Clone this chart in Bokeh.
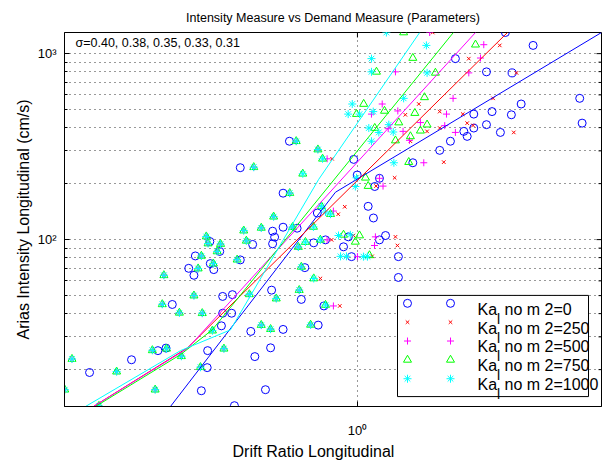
import numpy as np
from bokeh.plotting import figure
from bokeh.models import FixedTicker, Range1d, Title
from bokeh.core.properties import value
from bokeh.embed import file_html
from bokeh.resources import INLINE

FONT = "Liberation Sans"

# ---------------- axis limits ----------------
x_min, x_max = 0.2847, 2.848
y_min, y_max = 12.67, 1299.0

x_major = [1]
y_major = [10, 100, 1000]
y_minor = [20, 30, 40, 50, 60, 70, 80, 90, 200, 300, 400, 500, 600, 700, 800, 900]
x_labels = {1: "10\u2070"}
y_labels = {10: "10\u00b9", 100: "10\u00b2", 1000: "10\u00b3"}

ka_values = ["0", "250", "500", "750", "1000"]
sigmas = ["0.40", "0.38", "0.35", "0.33", "0.31"]

# ---------------- data ----------------
# Ka = 0 (blue circles)
b_x = [1.886, 2.124, 1.522, 1.739, 1.941, 2.594, 2.018, 1.781, 1.647, 1.935, 2.621, 1.739, 1.647, 1.578, 1.601,
       1.846, 1.490, 1.423, 1.268, 0.984, 0.999, 1.099, 1.077, 1.047, 1.071, 0.962, 0.942, 1.128, 1.099, 1.192,
       0.975, 1.192, 0.842, 0.727, 0.727, 0.695, 0.701, 0.695, 0.638, 0.531, 0.554, 0.499, 0.605, 0.532, 0.485,
       0.540, 0.496, 0.772, 0.829, 0.872, 0.798, 0.692, 0.786, 0.585, 0.561, 0.452, 0.561, 0.583, 0.866, 0.845,
       0.558, 0.727, 0.633, 0.425, 0.440, 0.526, 0.689, 0.644, 0.3795, 0.317, 0.525, 0.512, 0.674, 0.590, 0.747,
       0.605]
b_y = [1299, 1107, 940, 798, 788, 575, 536, 488, 473, 469, 423, 415, 398, 382, 359,
       377, 338, 302, 259, 270, 222.5, 213.6, 193, 151, 130.7, 103.5, 91.5, 105.2, 99.7, 81.0,
       81.0, 62.6, 139, 177.7, 116.6, 111, 103.1, 95.0, 94.2, 97.7, 86.4, 81.7, 77.8, 74.3, 70.1,
       69.0, 64.3, 115.2, 96.1, 99.7, 70.7, 53.5, 47.7, 50.6, 49.5, 44.8, 40.2, 40.2, 44.0, 34.7,
       34.4, 32.9, 32.1, 25.3, 26.1, 25.3, 26.2, 23.5, 22.6, 19.3, 20.5, 15.4, 15.6, 12.8, 338,
       243.6]

# records where Ka = 250, 500, 750, 1000 coincide
shared_x = [0.748, 0.698, 0.662, 0.614, 0.621, 0.523, 0.527, 0.556, 0.548, 0.512, 0.597, 0.539, 0.505, 0.436,
            0.757, 0.776, 0.786, 0.779, 0.706, 0.629, 0.496, 0.433, 0.466, 0.514, 0.818, 0.537, 0.662, 0.689,
            0.415, 0.441, 0.564, 0.470, 0.294, 0.356, 0.510, 0.285, 0.420, 0.330, 0.769, 0.641, 0.844]
shared_y = [177.7, 132.8, 115.6, 111.8, 98.5, 103.9, 95.3, 94.6, 86.4, 81.7, 78.0, 74.3, 69.9, 64.3,
            116.6, 91.2, 71.3, 53.5, 48.2, 50.8, 50.0, 44.9, 40.4, 40.2, 34.8, 32.4, 34.7, 33.0,
            25.4, 25.9, 25.9, 23.6, 22.8, 19.5, 20.6, 15.6, 15.6, 12.75, 338, 245, 305]

# records where Ka = 750 and 1000 coincide
gc_x = [0.800, 0.853, 0.829, 0.872, 0.791, 0.861, 0.857, 0.828, 0.891]
gc_y = [97.0, 99.7, 61.8, 44.5, 226, 272, 151, 117, 137]

# Ka = 250 (red x)
r_x = [1.381, 1.841, 1.612, 1.978, 1.789, 1.301, 1.228, 1.423, 1.571, 1.601, 1.642, 1.423, 1.348, 1.955,
       1.255, 1.448, 1.173, 1.083, 0.897, 0.947, 0.921, 0.895, 0.983, 1.177, 1.187, 1.065, 0.853, 0.927]
r_y = [1299, 1107, 940, 788, 575, 536, 469, 488, 473, 423, 411, 398, 382, 377,
       338, 261, 215, 194, 272, 150.2, 137, 99.7, 105.2, 103.5, 93.0, 81.3, 61.8, 44.0]

# Ka = 500 (magenta +)
m_x = [1.363, 1.719, 1.695, 1.177, 1.612, 1.507, 1.112, 1.062, 1.189, 1.465, 1.31, 1.454, 1.141,
       1.216, 1.522, 1.250, 1.329, 1.099, 1.116, 0.878, 0.878, 1.080, 1.076, 1.0, 0.902, 0.902]
m_y = [1299, 1117, 947, 798, 788, 575, 536, 473, 492, 473, 426, 410, 395,
       382, 377, 342, 259, 213.6, 194, 272, 99.7, 103.5, 93.0, 81.0, 44.0, 142.4]

# Ka = 750 (green triangles)
g_x = [1.219, 1.659, 1.268, 1.085, 1.397, 1.333, 1.027, 1.123, 1.279, 0.996, 1.194, 1.348, 1.077,
       1.31, 1.255, 1.177, 1.246, 1.035, 1.047, 0.942, 1.009, 0.991, 1.053]
g_y = [1299, 1117, 947, 798, 788, 582, 536, 492, 479, 473, 426, 415, 398,
       385, 359, 341, 261, 215, 194, 106.1, 105.2, 97.3, 82.3]

# Ka = 1000 (cyan asterisks)
c_x = [1.132, 1.344, 1.062, 1.062, 1.348, 0.978, 0.961, 1.009, 1.070, 1.219, 1.050, 1.096, 1.144,
       1.166, 1.062, 0.996, 1.169, 0.991, 0.922, 0.970, 0.930, 0.954, 1.026, 1.044, 0.872]
c_y = [1299, 1107, 940, 798, 788, 536, 473, 473, 488, 575, 398, 377, 415,
       379, 338, 215, 259, 193, 105.2, 106.1, 81.3, 81.3, 81.0, 81.0, 140.7]

# fitted curves
fit_b_x = [0.4485, 0.910, 2.848]
fit_b_y = [12.67, 179.8, 1299]
fit_r_x = [0.3224, 0.4826, 1.903]
fit_r_y = [12.67, 26.2, 1299]
fit_m_x = [0.3224, 0.4826, 1.659]
fit_m_y = [12.67, 26.0, 1299]
fit_g_x = [0.3252, 0.4683, 0.5364, 1.509]
fit_g_y = [12.67, 24.1, 32.7, 1299]
fit_c_x = [0.3115, 0.4683, 0.580, 0.847, 1.306]
fit_c_y = [12.67, 25.3, 32.7, 211, 1299]

# ---------------- figure ----------------
FL, FR, FT, FB = 64, 601, 32, 409          # frame edges in page pixels
W, H = 605, 460

p = figure(width=W, height=H, x_axis_type="log", y_axis_type="log",
           x_range=Range1d(x_min, x_max), y_range=Range1d(y_min, y_max),
           output_backend="svg", toolbar_location=None,
           min_border_left=FL, min_border_right=W - FR, min_border_top=FT, min_border_bottom=H - FB)
p.background_fill_color = "white"
p.border_fill_color = "white"
p.outline_line_color = "black"
p.outline_line_width = 1

p.title.text = "Intensity Measure vs Demand Measure (Parameters)"
p.title.text_font = FONT
p.title.text_font_size = "12.5px"
p.title.text_font_style = "normal"
p.title.align = "center"
p.title.text_color = "black"
p.title.standoff = 16

xt = FixedTicker(ticks=x_major, minor_ticks=[])
yt = FixedTicker(ticks=y_major, minor_ticks=y_minor)

xa = p.below[0]
ya = p.left[0]
for ax, tk, lab in ((xa, xt, x_labels), (ya, yt, y_labels)):
    ax.ticker = tk
    ax.major_label_overrides = lab
    ax.axis_label_text_font = FONT
    ax.axis_label_text_font_size = "16px"
    ax.axis_label_text_font_style = "normal"
    ax.axis_label_text_color = "black"
    ax.major_label_text_font = FONT
    ax.major_label_text_font_size = "13px"
    ax.major_label_text_color = "black"
    ax.major_tick_in = 5
    ax.major_tick_out = 0
    ax.minor_tick_in = 3
    ax.minor_tick_out = 0
    ax.axis_line_color = "black"
    ax.major_tick_line_color = "black"
    ax.minor_tick_line_color = "black"
ya.axis_label = "Arias Intensity Longitudinal (cm/s)"
ya.major_label_standoff = 8
ya.axis_label_standoff = 3
xa.major_label_standoff = 16

# x axis label, placed left of centre as in the original
p.add_layout(Title(text="Drift Ratio Longitudinal", align="left", offset=232 - FL,
                   text_font=FONT, text_font_size="16px", text_font_style="normal",
                   text_color="black", standoff=1), "below")

for g in (p.xgrid[0], p.ygrid[0]):
    g.grid_line_color = "black"
    g.grid_line_dash = "1 4"
    g.grid_line_alpha = 0.8
p.ygrid[0].minor_grid_line_color = "black"
p.ygrid[0].minor_grid_line_dash = "1 4"
p.ygrid[0].minor_grid_line_alpha = 0.8

# ---------------- series ----------------
series = [
    ("#0000ff", "circle", 8, b_x, b_y, fit_b_x, fit_b_y),
    ("#ff0000", "x", 5, shared_x + r_x, shared_y + r_y, fit_r_x, fit_r_y),
    ("#ff00ff", "cross", 7, shared_x + m_x, shared_y + m_y, fit_m_x, fit_m_y),
    ("#00ff00", "triangle", 8, shared_x + gc_x + g_x, shared_y + gc_y + g_y, fit_g_x, fit_g_y),
    ("#00ffff", "asterisk", 8, shared_x + gc_x + c_x, shared_y + gc_y + c_y, fit_c_x, fit_c_y),
]
for col, mk, sz, xs, ys, fx, fy in series:
    p.scatter(xs, ys, marker=mk, size=sz, fill_color=None, line_color=col, line_width=1)
for col, mk, sz, xs, ys, fx, fy in series:
    p.line(fx, fy, line_color=col, line_width=1)

# ---------------- positioning helpers (page pixels -> data) ----------------
lx0, lx1 = np.log10(x_min), np.log10(x_max)
ly0, ly1 = np.log10(y_min), np.log10(y_max)


def px2x(px):
    return float(10 ** (lx0 + (px - FL) / (FR - FL) * (lx1 - lx0)))


def py2y(py):
    return float(10 ** (ly1 - (py - FT) / (FB - FT) * (ly1 - ly0)))


# inward ticks on the top and right box edges
p.segment(x0=[px2x(FR - 5)] * 2, x1=[x_max] * 2, y0=y_major[1:], y1=y_major[1:],
          line_color="black", line_width=1)
p.segment(x0=[px2x(FR - 3)] * len(y_minor), x1=[x_max] * len(y_minor), y0=y_minor, y1=y_minor,
          line_color="black", line_width=1)
p.segment(x0=x_major, x1=x_major, y0=[y_max], y1=[py2y(FT + 5)], line_color="black", line_width=1)

# sigma annotation
p.text(x=[px2x(75)], y=[py2y(43)], text=["\u03c3=" + ", ".join(sigmas)],
       text_font=value(FONT), text_font_size="12.5px", text_baseline="middle",
       text_align="left", text_color="black")

# legend
p.quad(left=[px2x(397)], right=[px2x(588)], top=[py2y(297)], bottom=[py2y(399)],
       fill_color="white", line_color="black", line_width=1)
rows = [305, 324, 343, 362, 381]
for (col, mk, sz, *_), ka, ry in zip(series, ka_values, rows):
    p.scatter([px2x(407), px2x(450)], [py2y(ry), py2y(ry)], marker=mk, size=sz,
              fill_color=None, line_color=col, line_width=1)
    p.text(x=[px2x(477)], y=[py2y(ry + 6)], text=["Ka"], text_font=value(FONT),
           text_font_size="16px", text_baseline="alphabetic", text_color="black")
    p.text(x=[px2x(496.5)], y=[py2y(ry + 15.5)], text=["l"], text_font=value(FONT),
           text_font_size="14px", text_baseline="alphabetic", text_color="black")
    p.text(x=[px2x(504)], y=[py2y(ry + 6)], text=["no m 2=" + ka], text_font=value(FONT),
           text_font_size="16px", text_baseline="alphabetic", text_color="black")

open("out.html", "w").write(file_html(p, INLINE))
